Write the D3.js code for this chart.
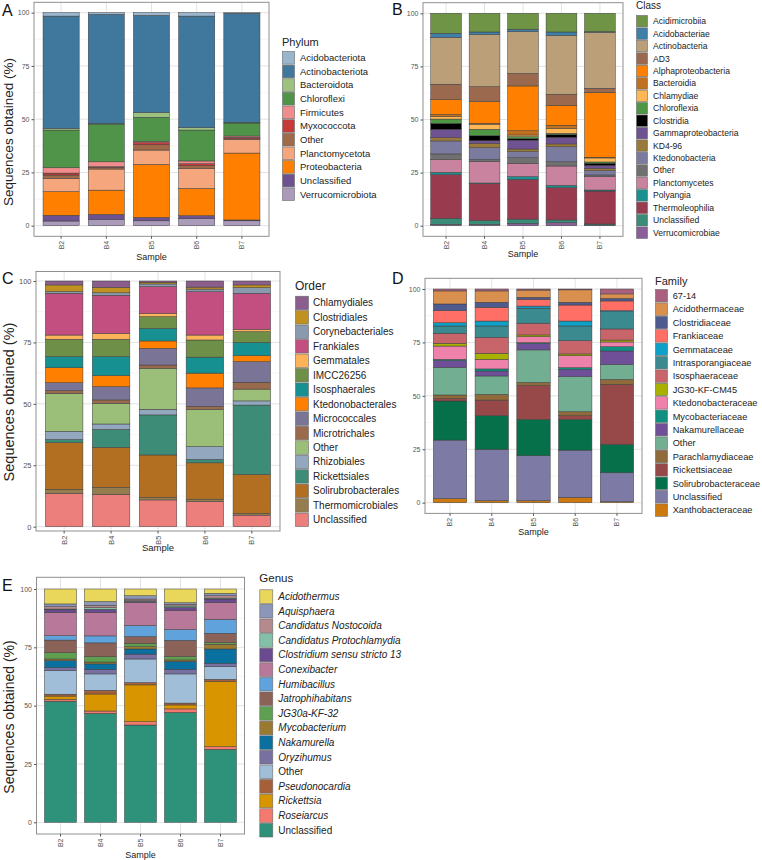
<!DOCTYPE html>
<html>
<head>
<meta charset="utf-8">
<script src="https://cdn.jsdelivr.net/npm/d3@7"></script>
<style>
  body { margin: 0; background: #fff; }
  svg { display: block; font-family: 'Liberation Sans', Arial, sans-serif; }
</style>
</head>
<body>
<svg id="chart" width="762" height="860"></svg>
<script>
const samples = ['B2', 'B4', 'B5', 'B6', 'B7']

// Panel A - phylum (rows = taxa, columns = samples, %)
const phyla = ['Acidobacteriota', 'Actinobacteriota', 'Bacteroidota', 'Chloroflexi', 'Firmicutes', 'Myxococcota',
  'Other', 'Planctomycetota', 'Proteobacteria', 'Unclassified', 'Verrucomicrobiota']
const phylumColors = ['#9ab5ce', '#3f789c', '#9dc27f', '#4f9448', '#f08c8c', '#c73a3a',
  '#a06a4a', '#f6a67c', '#ff8000', '#6e5190', '#ab9bbb']
const phylumValues = [
  [1.6, 0.8, 1.3, 1.6, 0.3],
  [52.7, 51.2, 45.6, 52.4, 51.2],
  [0.8, 0.3, 2.2, 1.1, 0.3],
  [17.7, 17.7, 11.3, 14.5, 6.1],
  [2.5, 2.3, 0.6, 1.3, 0.6],
  [0.9, 0.3, 1.0, 0.9, 0.7],
  [1.6, 0.8, 2.5, 1.4, 0.3],
  [6.2, 9.9, 6.7, 9.3, 6.4],
  [11.1, 11.4, 24.9, 12.8, 31.4],
  [2.7, 2.3, 1.6, 1.4, 0.4],
  [2.2, 3.0, 2.3, 3.3, 2.3]
]

// Panel B - class
const classes = ['Acidimicrobiia', 'Acidobacteriae', 'Actinobacteria', 'AD3', 'Alphaproteobacteria', 'Bacteroidia',
  'Chlamydiae', 'Chloroflexia', 'Clostridia', 'Gammaproteobacteria', 'KD4-96', 'Ktedonobacteria', 'Other',
  'Planctomycetes', 'Polyangia', 'Thermoleophilia', 'Unclassified', 'Verrucomicrobiae']
const classColors = ['#6f9445', '#3f7fa8', '#bb9f78', '#9b6a4e', '#ff8000', '#bf7020',
  '#ffb755', '#4e9845', '#000000', '#6e5291', '#9a7a3a', '#7b7ba0', '#707070',
  '#c9839f', '#1a9090', '#9a3a4e', '#3a8c78', '#8a5e98']
const classValues = [
  [9.4, 8.8, 7.5, 8.8, 8.6],
  [1.9, 1.2, 1.1, 1.6, 0.3],
  [22.1, 24.5, 19.7, 27.7, 26.4],
  [7.1, 7.1, 5.9, 5.2, 2.1],
  [7.1, 10.2, 21.1, 9.4, 30.4],
  [1.1, 0.4, 2.0, 1.6, 0.3],
  [1.1, 2.4, 0.8, 2.2, 1.9],
  [2.0, 3.0, 0.9, 0.6, 0.6],
  [2.8, 2.4, 0.7, 1.3, 1.0],
  [4.0, 1.2, 4.2, 3.1, 1.4],
  [1.5, 2.1, 1.2, 1.3, 1.1],
  [6.1, 5.5, 2.9, 7.1, 2.0],
  [2.6, 0.9, 2.6, 2.0, 0.8],
  [6.1, 10.2, 6.3, 9.1, 6.3],
  [1.1, 0.3, 1.3, 1.1, 0.5],
  [20.5, 17.3, 18.7, 15.2, 15.5],
  [2.9, 1.9, 2.0, 1.3, 0.5],
  [0.6, 0.6, 1.1, 1.4, 0.3]
]

// Panel C - order
const orders = ['Chlamydiales', 'Clostridiales', 'Corynebacteriales', 'Frankiales', 'Gemmatales', 'IMCC26256',
  'Isosphaerales', 'Ktedonobacterales', 'Micrococcales', 'Microtrichales', 'Other', 'Rhizobiales',
  'Rickettsiales', 'Solirubrobacterales', 'Thermomicrobiales', 'Unclassified']
const orderColors = ['#8b5e8e', '#c09020', '#8a9aae', '#c24f80', '#fdb35a', '#6e8f48',
  '#169090', '#ff7f00', '#7a7496', '#9a6a4c', '#9bbe78', '#93a8be',
  '#3d8c78', '#b26f22', '#957d50', '#ec7f7b']
const orderValues = [
  [1.6, 2.6, 0.5, 2.5, 1.6],
  [2.7, 2.2, 0.7, 0.8, 1.1],
  [0.7, 1.0, 1.1, 1.0, 2.3],
  [17.0, 15.5, 10.9, 17.7, 14.7],
  [1.7, 2.4, 1.3, 2.0, 0.9],
  [7.1, 7.1, 4.8, 7.0, 4.4],
  [4.5, 7.7, 5.1, 6.5, 5.4],
  [6.1, 4.5, 3.0, 6.0, 2.4],
  [3.2, 5.4, 6.8, 7.5, 8.4],
  [1.1, 1.4, 1.3, 1.2, 2.8],
  [15.5, 8.4, 16.7, 15.2, 4.8],
  [3.3, 2.2, 2.3, 5.2, 1.7],
  [1.3, 7.3, 16.3, 1.4, 28.2],
  [19.0, 16.3, 17.3, 14.8, 15.9],
  [1.6, 2.8, 1.0, 0.9, 0.7],
  [13.6, 13.2, 10.9, 10.3, 4.7]
]

// Panel D - family
const families = ['67-14', 'Acidothermaceae', 'Clostridiaceae', 'Frankiaceae', 'Gemmataceae', 'Intrasporangiaceae',
  'Isosphaeraceae', 'JG30-KF-CM45', 'Ktedonobacteraceae', 'Mycobacteriaceae', 'Nakamurellaceae', 'Other',
  'Parachlamydiaceae', 'Rickettsiaceae', 'Solirubrobacteraceae', 'Unclassified', 'Xanthobacteraceae']
const familyColors = ['#a9607f', '#d9904f', '#4f5a8e', '#ff6f66', '#0fa0c8', '#3a8a90',
  '#c8656a', '#a8b000', '#ee82aa', '#0f9080', '#6f4f98', '#72af92',
  '#8f6a3a', '#974848', '#05704a', '#7d7ba5', '#cc7a10']
const familyValues = [
  [0.9, 0.9, 0.5, 0.4, 2.3],
  [6.1, 5.3, 3.4, 5.8, 2.1],
  [3.1, 2.4, 0.9, 1.3, 1.2],
  [5.7, 6.4, 3.2, 7.5, 4.5],
  [1.5, 2.3, 1.0, 2.3, 0.5],
  [3.4, 5.3, 7.0, 6.9, 8.1],
  [4.7, 7.5, 5.5, 6.2, 5.2],
  [1.3, 2.8, 0.8, 0.8, 0.9],
  [6.2, 4.5, 2.8, 5.6, 2.2],
  [0.6, 1.0, 0.4, 0.8, 2.0],
  [3.2, 2.3, 3.0, 3.4, 6.3],
  [12.9, 8.6, 15.2, 16.4, 7.0],
  [1.6, 2.7, 1.5, 1.9, 2.3],
  [1.2, 7.3, 15.8, 1.7, 28.1],
  [18.3, 15.7, 17.0, 14.4, 13.3],
  [27.4, 24.1, 21.1, 22.1, 13.5],
  [1.9, 0.9, 0.9, 2.5, 0.5]
]

// Panel E - genus
const genera = ['Acidothermus', 'Aquisphaera', 'Candidatus Nostocoida', 'Candidatus Protochlamydia',
  'Clostridium sensu stricto 13', 'Conexibacter', 'Humibacillus', 'Jatrophihabitans', 'JG30a-KF-32',
  'Mycobacterium', 'Nakamurella', 'Oryzihumus', 'Other', 'Pseudonocardia', 'Rickettsia', 'Roseiarcus', 'Unclassified']
const genusColors = ['#e8d75a', '#8c96b8', '#b48a8e', '#82c0a8', '#6a4a90', '#b8789a',
  '#5fa2dc', '#8b6258', '#5ea050', '#9a7a30', '#0a70a0', '#7870a0',
  '#a0bed8', '#a5603a', '#d89500', '#f47a70', '#2e917a']
const genusValues = [
  [6.4, 5.4, 2.9, 5.9, 1.9],
  [1.2, 1.6, 1.4, 0.7, 1.0],
  [1.0, 1.0, 0.7, 0.7, 1.0],
  [0.3, 0.7, 0.3, 0.6, 0.4],
  [1.2, 1.4, 0.4, 1.2, 1.4],
  [9.9, 10.0, 10.0, 8.3, 7.3],
  [1.9, 3.0, 4.7, 4.6, 6.0],
  [5.4, 5.9, 2.9, 7.0, 4.0],
  [2.7, 2.3, 1.4, 1.4, 0.7],
  [0.7, 0.8, 1.0, 0.6, 2.0],
  [3.0, 2.3, 2.2, 3.4, 6.2],
  [1.3, 2.0, 2.1, 2.0, 1.4],
  [10.1, 7.0, 10.1, 12.5, 5.4],
  [0.8, 1.6, 1.0, 0.8, 1.0],
  [1.4, 7.3, 15.8, 1.7, 27.9],
  [0.8, 1.0, 1.4, 1.5, 1.1],
  [51.9, 46.7, 41.7, 47.1, 31.3]
]

const yTicks = [0, 25, 50, 75, 100]
const yMinor = [12.5, 37.5, 62.5, 87.5]

const svg = d3.select('#chart')

function drawPanel(p) {
  const { x0, x1, y0, y1 } = p.box
  const g = svg.append('g')

  const x = d3.scaleBand().domain(samples).range([x0, x1]).paddingInner(0.2).paddingOuter(0.2)
  // pixel rows of the 0 % and 100 % gridlines
  const y = d3.scaleLinear().domain([0, 100]).range([p.yPix[0], p.yPix[1]])
  const color = d3.scaleOrdinal().domain(p.taxa).range(p.colors)

  // grid
  g.append('g').selectAll('line').data(yMinor).enter().append('line')
    .attr('x1', x0).attr('x2', x1)
    .attr('y1', d => y(d)).attr('y2', d => y(d))
    .attr('stroke', '#f0f0f0').attr('stroke-width', 0.6)
  g.append('g').selectAll('line').data(yTicks).enter().append('line')
    .attr('x1', x0).attr('x2', x1)
    .attr('y1', d => y(d)).attr('y2', d => y(d))
    .attr('stroke', '#e3e3e3').attr('stroke-width', 1)
  g.append('g').selectAll('line').data(samples).enter().append('line')
    .attr('x1', d => x(d) + x.bandwidth() / 2).attr('x2', d => x(d) + x.bandwidth() / 2)
    .attr('y1', y0).attr('y2', y1)
    .attr('stroke', '#e3e3e3').attr('stroke-width', 1)

  // stacked bars, first taxon on top
  const rows = samples.map((s, j) => {
    const r = { sample: s }
    p.taxa.forEach((t, i) => { r[t] = p.values[i][j] })
    return r
  })
  const series = d3.stack().keys(p.taxa.slice().reverse())(rows)

  g.append('g').selectAll('g').data(series).enter().append('g')
    .attr('fill', d => color(d.key))
    .selectAll('rect').data(d => d).enter().append('rect')
    .attr('x', d => x(d.data.sample))
    .attr('width', x.bandwidth())
    .attr('y', d => y(d[1]))
    .attr('height', d => Math.max(0, y(d[0]) - y(d[1])))
    .attr('stroke', '#3c3c3c')
    .attr('stroke-width', 0.5)

  g.append('rect')
    .attr('x', x0).attr('y', y0).attr('width', x1 - x0).attr('height', y1 - y0)
    .attr('fill', 'none').attr('stroke', '#8f8f8f').attr('stroke-width', 1)

  // axes
  const yAxis = g.append('g')
    .attr('transform', `translate(${x0},0)`)
    .call(d3.axisLeft(y).tickValues(yTicks).tickSize(2.5).tickPadding(2))
  yAxis.select('.domain').remove()
  yAxis.selectAll('line').attr('stroke', '#555')
  yAxis.selectAll('text').attr('fill', '#555').attr('font-size', p.tickSize)
    .attr('font-family', 'Liberation Sans, Arial, sans-serif')

  const xAxis = g.append('g')
    .attr('transform', `translate(0,${y1})`)
    .call(d3.axisBottom(x).tickSize(2.5).tickPadding(2))
  xAxis.select('.domain').remove()
  xAxis.selectAll('line').attr('stroke', '#555')
  xAxis.selectAll('text')
    .attr('fill', '#555').attr('font-size', p.tickSize)
    .attr('font-family', 'Liberation Sans, Arial, sans-serif')
    .attr('transform', 'rotate(-90)')
    .attr('text-anchor', 'end')
    .attr('x', -4.5).attr('y', 0).attr('dy', '0.35em')

  g.append('text')
    .attr('x', (x0 + x1) / 2).attr('y', p.sampleY)
    .attr('text-anchor', 'middle')
    .attr('font-size', p.sampleSize).attr('fill', '#222')
    .text('Sample')

  if (p.yTitle) {
    g.append('text')
      .attr('transform', `translate(${p.yTitle.x},${p.yTitle.y}) rotate(-90)`)
      .attr('text-anchor', 'middle')
      .attr('font-size', p.yTitle.size).attr('fill', '#222')
      .text('Sequences obtained (%)')
  }

  g.append('text')
    .attr('x', p.tag.x).attr('y', p.tag.y)
    .attr('font-size', 16).attr('fill', '#111')
    .text(p.label)

  // legend
  const L = p.legend
  const lg = g.append('g')
  lg.append('text')
    .attr('x', L.x).attr('y', L.titleY)
    .attr('font-size', L.titleSize).attr('fill', '#222')
    .text(L.title)
  const item = lg.selectAll('g.item').data(p.taxa).enter().append('g')
    .attr('transform', (d, i) => `translate(${L.x},${L.top + i * L.step})`)
  item.append('rect')
    .attr('x', 0.5).attr('y', 0.5)
    .attr('width', L.sw - 1).attr('height', L.step - 1)
    .attr('fill', d => color(d))
    .attr('stroke', '#6a6a6a').attr('stroke-width', 0.6)
  item.append('text')
    .attr('x', L.sw + L.gap).attr('y', L.step / 2).attr('dy', '0.35em')
    .attr('font-size', L.size).attr('fill', '#222')
    .attr('font-style', d => (p.italic && d !== 'Other' && d !== 'Unclassified') ? 'italic' : 'normal')
    .text(d => d)
}

drawPanel({
  label: 'A', taxa: phyla, colors: phylumColors, values: phylumValues,
  box: { x0: 34, x1: 269, y0: 2.3, y1: 236.3 }, yPix: [225.7, 12.7],
  tickSize: 7, sampleY: 260, sampleSize: 9,
  yTitle: { x: 13, y: 132, size: 13.5 },
  tag: { x: 2, y: 16 },
  legend: { title: 'Phylum', x: 282, top: 51, step: 13.64, sw: 13, gap: 5, size: 9.5, titleY: 46, titleSize: 11 }
})

drawPanel({
  label: 'B', taxa: classes, colors: classColors, values: classValues,
  box: { x0: 423, x1: 623, y0: 2.7, y1: 236.3 }, yPix: [225.7, 13.3],
  tickSize: 7, sampleY: 257, sampleSize: 9,
  yTitle: null,
  tag: { x: 392, y: 15 },
  legend: { title: 'Class', x: 636, top: 15, step: 12.44, sw: 12, gap: 5, size: 8.6, titleY: 9, titleSize: 10 }
})

drawPanel({
  label: 'C', taxa: orders, colors: orderColors, values: orderValues,
  box: { x0: 36, x1: 280, y0: 271.5, y1: 531 }, yPix: [526.7, 281],
  tickSize: 7.5, sampleY: 551, sampleSize: 9.5,
  yTitle: { x: 14, y: 402, size: 14.5 },
  tag: { x: 2, y: 284 },
  legend: { title: 'Order', x: 295, top: 295.7, step: 14.46, sw: 14, gap: 4, size: 10, titleY: 290, titleSize: 12 }
})

drawPanel({
  label: 'D', taxa: families, colors: familyColors, values: familyValues,
  box: { x0: 425, x1: 642, y0: 278.3, y1: 513.4 }, yPix: [502.7, 289],
  tickSize: 7, sampleY: 535, sampleSize: 9,
  yTitle: null,
  tag: { x: 392, y: 284 },
  legend: { title: 'Family', x: 655, top: 289, step: 13.4, sw: 13, gap: 4.7, size: 9.2, titleY: 285, titleSize: 11 }
})

drawPanel({
  label: 'E', taxa: genera, colors: genusColors, values: genusValues, italic: true,
  box: { x0: 36.5, x1: 244.5, y0: 577.3, y1: 834 }, yPix: [822.3, 589],
  tickSize: 7, sampleY: 858, sampleSize: 9,
  yTitle: { x: 14, y: 717, size: 14 },
  tag: { x: 2, y: 591 },
  legend: { title: 'Genus', x: 259.3, top: 589.3, step: 14.6, sw: 14, gap: 5, size: 10, titleY: 582, titleSize: 11.5 }
})
</script>
</body>
</html>
